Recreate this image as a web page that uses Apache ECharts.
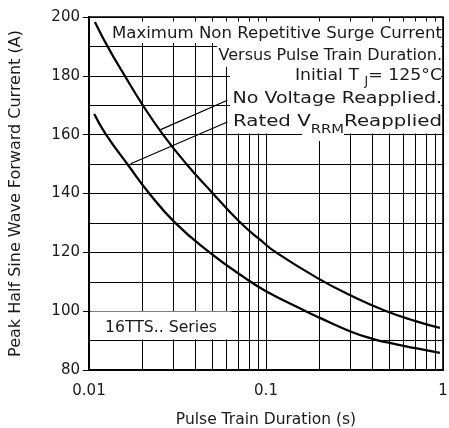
<!DOCTYPE html>
<html>
<head>
<meta charset="utf-8">
<script src="https://cdn.jsdelivr.net/npm/echarts@6/dist/echarts.min.js"></script>
<style>
html,body{margin:0;padding:0;background:#fff;}
#chart{width:449px;height:428px;}
</style>
</head>
<body>
<div id="chart"></div>
<script>
// ---- data ----
const noVoltageX = [0.0108, 0.0127, 0.016, 0.02, 0.026, 0.0352, 0.05, 0.0713, 0.0925, 0.115, 0.2, 0.3, 0.46, 0.7, 0.96];
const noVoltageY = [198.3, 190.1, 179.8, 170.3, 160.3, 150.3, 140.1, 130.2, 124.3, 119.8, 110.9, 105.4, 100.4, 96.6, 94.3];
const ratedX = [0.0107, 0.0124, 0.0167, 0.0218, 0.0306, 0.048, 0.076, 0.1, 0.17, 0.2, 0.3, 0.4, 0.5, 0.7, 0.96];
const ratedY = [167, 160.3, 149.5, 140.2, 130.1, 120, 111.3, 106.8, 99.8, 97.8, 93.1, 90.6, 89.2, 87.4, 85.8];
const xMinorGrid = [0.02, 0.03, 0.04, 0.05, 0.06, 0.07, 0.08, 0.09, 0.2, 0.3, 0.4, 0.5, 0.6, 0.7, 0.8, 0.9];
const xTickLabels = ['0.01', '0.1', '1'];
const yTickLabels = ['80', '100', '120', '140', '160', '180', '200'];
// leader-line anchors (curve point -> label end), data space
const leaderNoVoltage = [[0.0254, 161.7], [0.0605, 171.7]];
const leaderRated = [[0.0172, 150.1], [0.0605, 164.3]];

const FONT = 'DejaVu Sans';
const TXT = '#1a1a1a';
const ctx = document.createElement('canvas').getContext('2d');
function measure(parts) {
  let w = 0;
  parts.forEach(([t, size]) => { ctx.font = size + 'px "' + FONT + '"'; w += ctx.measureText(t).width; });
  return w;
}
function fitText(parts, target) { return target / measure(parts); }

const chart = echarts.init(document.getElementById('chart'), null, {renderer: 'canvas'});
function zip(xs, ys) { return xs.map((x, i) => [x, ys[i]]); }

const R = 442; // right edge of annotation text
function plainLine(text, y, width) {
  return {type: 'text', z: 60, x: R, y: y, scaleX: fitText([[text, 16]], width),
    style: {x: 0, y: 0, align: 'right', verticalAlign: 'middle', text: text, font: '16px ' + FONT, fill: TXT}};
}
function subLine(a, sub, b, top, width, subSize, lh) {
  return {type: 'text', z: 60, x: R, y: top, scaleX: fitText([[a, 16], [sub, subSize], [b, 16]], width),
    style: {x: 0, y: 0, align: 'right', verticalAlign: 'top', fill: TXT,
      text: '{m|' + a + '}{s|' + sub + '}{m|' + b + '}',
      rich: {m: {fontFamily: FONT, fontSize: 16, lineHeight: 16, verticalAlign: 'top', fill: TXT, color: TXT},
             s: {fontFamily: FONT, fontSize: subSize, lineHeight: lh, verticalAlign: 'bottom', fill: TXT, color: TXT}}}};
}

const option = {
  animation: false,
  backgroundColor: '#fff',
  textStyle: {fontFamily: FONT, color: TXT},
  grid: {left: 89, right: 6, top: 17, bottom: 58, show: true, borderColor: '#000', borderWidth: 1.6,
    backgroundColor: 'transparent', containLabel: false, outerBoundsMode: 'none'},
  xAxis: {
    type: 'log', logBase: 10, min: 0.01, max: 1,
    name: 'Pulse Train Duration (s)', nameLocation: 'middle', nameGap: 42,
    nameTextStyle: {fontFamily: FONT, fontSize: 15.5, color: TXT},
    axisLine: {show: true, lineStyle: {color: '#000', width: 2}},
    axisTick: {show: false},
    axisLabel: {fontFamily: FONT, fontSize: 15, color: TXT, margin: 14,
      formatter: v => { const s = String(+v.toPrecision(3)); return xTickLabels.includes(s) ? s : ''; }},
    splitLine: {show: true, lineStyle: {color: '#000', width: 1}},
    minorTick: {show: false}
  },
  yAxis: [{
    type: 'value', min: 80, max: 200, interval: 10,
    axisLine: {show: true, lineStyle: {color: '#000', width: 2}},
    axisTick: {show: false},
    axisLabel: {show: false},
    splitLine: {show: true, lineStyle: {color: '#000', width: 1}}
  }, {
    type: 'value', min: 80, max: 200, interval: 20, position: 'left',
    name: 'Peak Half Sine Wave Forward Current (A)', nameLocation: 'middle', nameGap: 65, nameRotate: 90,
    nameTextStyle: {fontFamily: FONT, fontSize: 16, color: TXT},
    axisLine: {show: false},
    axisTick: {show: true, length: 6, lineStyle: {color: '#000', width: 1}},
    axisLabel: {fontFamily: FONT, fontSize: 15, color: TXT, margin: 9,
      formatter: v => yTickLabels.includes(String(v)) ? String(v) : ''},
    splitLine: {show: false}
  }],
  graphic: [
    {type: 'rect', z: 50, shape: {x: 108, y: 21.5, width: 333, height: 21.5}, style: {fill: '#fff'}},
    {type: 'rect', z: 50, shape: {x: 217, y: 42, width: 224, height: 25}, style: {fill: '#fff'}},
    {type: 'rect', z: 50, shape: {x: 230, y: 66, width: 211, height: 67.5}, style: {fill: '#fff'}},
    {type: 'rect', z: 50, shape: {x: 302, y: 133, width: 42, height: 8}, style: {fill: '#fff'}},
    {type: 'rect', z: 50, shape: {x: 90.5, y: 311.5, width: 141, height: 28}, style: {fill: '#fff'}},
    plainLine('Maximum Non Repetitive Surge Current', 33.5, 330),
    plainLine('Versus Pulse Train Duration.', 56, 223.5),
    subLine('Initial T ', 'J', '= 125°C', 68, 147, 11.5, 20.5),
    plainLine('No Voltage Reapplied.', 99, 209.5),
    subLine('Rated V', 'RRM', 'Reapplied', 113.7, 209, 12, 22.5),
    {type: 'text', z: 60, x: 105, y: 328, scaleX: fitText([['16TTS.. Series', 16]], 112),
      style: {x: 0, y: 0, align: 'left', verticalAlign: 'middle', text: '16TTS.. Series', font: '16px ' + FONT, fill: TXT}}
  ],
  series: [
    {
      type: 'line', z: 1, data: [], silent: true,
      markLine: {silent: true, symbol: ['none', 'none'], label: {show: false},
        lineStyle: {color: '#000', width: 1, type: 'solid'},
        data: xMinorGrid.map(v => ({xAxis: v}))}
    },
    {
      name: 'No Voltage Reapplied', type: 'line', z: 100, smooth: 0.5, showSymbol: false,
      data: zip(noVoltageX, noVoltageY),
      lineStyle: {color: '#000', width: 2.2},
      markLine: {silent: true, symbol: ['none', 'none'], label: {show: false},
        lineStyle: {color: '#000', width: 1.2, type: 'solid'},
        data: [
          [{coord: leaderNoVoltage[0]}, {coord: leaderNoVoltage[1]}],
          [{coord: leaderRated[0]}, {coord: leaderRated[1]}]
        ]}
    },
    {
      name: 'Rated VRRM Reapplied', type: 'line', z: 100, smooth: 0.5, showSymbol: false,
      data: zip(ratedX, ratedY),
      lineStyle: {color: '#000', width: 2.3}
    }
  ]
};
chart.setOption(option);
</script>
</body>
</html>
